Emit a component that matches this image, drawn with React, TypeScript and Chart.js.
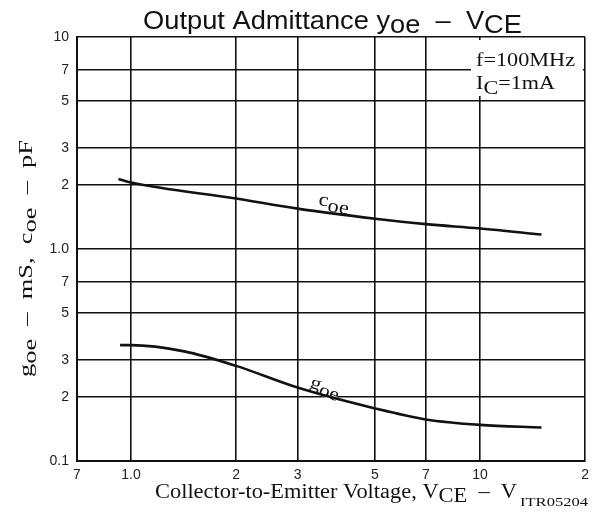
import React, { useEffect, useRef } from "react";
import { Chart, registerables } from "chart.js";

Chart.register(...registerables);

// ---- data ----
const xTickValues = [0.7, 1, 2, 3, 5, 7, 10, 20];
const xTickLabels = ["7", "1.0", "2", "3", "5", "7", "10", "2"];
const yTickValues = [0.1, 0.2, 0.3, 0.5, 0.7, 1, 2, 3, 5, 7, 10];
const yTickLabels = ["0.1", "2", "3", "5", "7", "1.0", "2", "3", "5", "7", "10"];

const coeVce = [0.92, 1, 2, 3, 5, 7, 10, 15];
const coeValues = [2.14, 2.06, 1.73, 1.55, 1.39, 1.31, 1.25, 1.17];
const goeVce = [0.93, 1, 1.42, 2, 3, 5, 7, 10, 15];
const goeValues = [0.352, 0.352, 0.329, 0.281, 0.222, 0.177, 0.157, 0.148, 0.144];

const SANS = "'Liberation Sans', Arial, sans-serif";
const SERIF = "'Liberation Serif', 'Times New Roman', serif";

type Seg = { t: string; dy?: number; font?: string };

function drawRich(
  ctx: CanvasRenderingContext2D,
  segs: Seg[],
  x: number,
  y: number,
  baseFont: string,
  targetW?: number,
  rot?: number
) {
  ctx.save();
  ctx.translate(x, y);
  if (rot) ctx.rotate(rot);
  let w = 0;
  for (const s of segs) {
    ctx.font = s.font || baseFont;
    w += ctx.measureText(s.t).width;
  }
  const sx = targetW ? targetW / w : 1;
  ctx.scale(sx, 1);
  ctx.textAlign = "left";
  ctx.textBaseline = "alphabetic";
  ctx.fillStyle = "#111";
  let cx = 0;
  for (const s of segs) {
    ctx.font = s.font || baseFont;
    ctx.fillText(s.t, cx, s.dy || 0);
    cx += ctx.measureText(s.t).width;
  }
  ctx.restore();
}

function whiteRect(ctx: CanvasRenderingContext2D, x: number, y: number, w: number, h: number, rot = 0) {
  ctx.save();
  ctx.translate(x, y);
  ctx.rotate(rot);
  ctx.fillStyle = "#fff";
  ctx.fillRect(0, 0, w, h);
  ctx.restore();
}

const textPlugin = {
  id: "textPlugin",
  beforeDatasetsDraw(chart: any) {
    const ctx: CanvasRenderingContext2D = chart.ctx;
    // annotation box
    whiteRect(ctx, 471, 40, 112, 56);
    // label backgrounds
    whiteRect(ctx, 316, 192, 36, 16, (8 * Math.PI) / 180);
    whiteRect(ctx, 308, 372, 36, 18, (20 * Math.PI) / 180);
  },
  afterDraw(chart: any) {
    const ctx: CanvasRenderingContext2D = chart.ctx;
    // title
    const tf = `25px ${SANS}`;
    drawRich(
      ctx,
      [
        { t: "Output Admittance y" },
        { t: "oe", dy: 4 },
        { t: "  \u2013  V" },
        { t: "CE", dy: 4 },
      ],
      143,
      29,
      tf,
      379
    );
    // x axis title
    const xf = `20px ${SERIF}`;
    drawRich(
      ctx,
      [{ t: "Collector-to-Emitter Voltage, V" }, { t: "CE", dy: 4 }, { t: "  \u2013  V" }],
      155,
      498,
      xf,
      362
    );
    drawRich(ctx, [{ t: "ITR05204" }], 520, 506, `13px ${SERIF}`, 68);
    // y axis title (rotated)
    const yf = `18px ${SERIF}`;
    drawRich(
      ctx,
      [
        { t: "g" },
        { t: "oe", dy: 4 },
        { t: "  \u2013  mS,  c" },
        { t: "oe", dy: 4 },
        { t: "  \u2013  pF" },
      ],
      32,
      377,
      yf,
      237,
      -Math.PI / 2
    );
    // annotation
    drawRich(ctx, [{ t: "f=100MHz" }], 476, 66, `18px ${SERIF}`, 99);
    drawRich(ctx, [{ t: "I" }, { t: "C", dy: 5 }, { t: "=1mA" }], 476, 89, `18px ${SERIF}`, 79);
    // curve labels
    drawRich(ctx, [{ t: "c" }, { t: "oe", dy: 5 }], 318, 205, `19px ${SERIF}`, 31, (8 * Math.PI) / 180);
    drawRich(ctx, [{ t: "g" }, { t: "oe", dy: 4 }], 309, 387, `19px ${SERIF}`, 31, (20 * Math.PI) / 180);
  },
};

function labelFor(values: number[], labels: string[], v: number) {
  const i = values.findIndex((t) => Math.abs(t - v) < 1e-9);
  return i >= 0 ? labels[i] : "";
}

export default function App() {
  const ref = useRef<HTMLCanvasElement>(null);

  useEffect(() => {
    if (!ref.current) return;
    const chart = new Chart(ref.current, {
      type: "line",
      data: {
        datasets: [
          {
            label: "coe",
            data: coeVce.map((x, i) => ({ x, y: coeValues[i] })),
            borderColor: "#111",
            borderWidth: 2.6,
            pointRadius: 0,
            fill: false,
            cubicInterpolationMode: "monotone",
          },
          {
            label: "goe",
            data: goeVce.map((x, i) => ({ x, y: goeValues[i] })),
            borderColor: "#111",
            borderWidth: 2.6,
            pointRadius: 0,
            fill: false,
            cubicInterpolationMode: "monotone",
          },
        ],
      },
      options: {
        responsive: false,
        animation: false,
        layout: { padding: { top: 37, right: 9, left: 0, bottom: 0 } },
        plugins: {
          legend: { display: false },
          tooltip: { enabled: false },
          title: { display: false },
        },
        scales: {
          x: {
            type: "logarithmic",
            min: 0.7,
            max: 20,
            afterBuildTicks: (s: any) => {
              s.ticks = xTickValues.map((v) => ({ value: v }));
            },
            afterFit: (s: any) => {
              s.height = 51;
            },
            ticks: {
              autoSkip: false,
              maxRotation: 0,
              padding: 6,
              color: "#222",
              font: { family: SANS, size: 14 },
              callback: (v: any) => labelFor(xTickValues, xTickLabels, Number(v)),
            },
            grid: { color: "#111", lineWidth: 1.6, drawTicks: false },
            border: { color: "#111", width: 2 },
          },
          y: {
            type: "logarithmic",
            min: 0.1,
            max: 10,
            afterBuildTicks: (s: any) => {
              s.ticks = yTickValues.map((v) => ({ value: v }));
            },
            afterFit: (s: any) => {
              s.width = 77;
            },
            ticks: {
              autoSkip: false,
              padding: 8,
              color: "#222",
              font: { family: SANS, size: 14 },
              callback: (v: any) => labelFor(yTickValues, yTickLabels, Number(v)),
            },
            grid: { color: "#111", lineWidth: 1.6, drawTicks: false },
            border: { color: "#111", width: 2 },
          },
        },
      },
      plugins: [textPlugin],
    } as any);
    return () => chart.destroy();
  }, []);

  return (
    <div style={{ position: "absolute", left: 0, top: 0, width: 595, height: 512, background: "#fff" }}>
      <canvas ref={ref} width={595} height={512} style={{ display: "block" }} />
    </div>
  );
}
